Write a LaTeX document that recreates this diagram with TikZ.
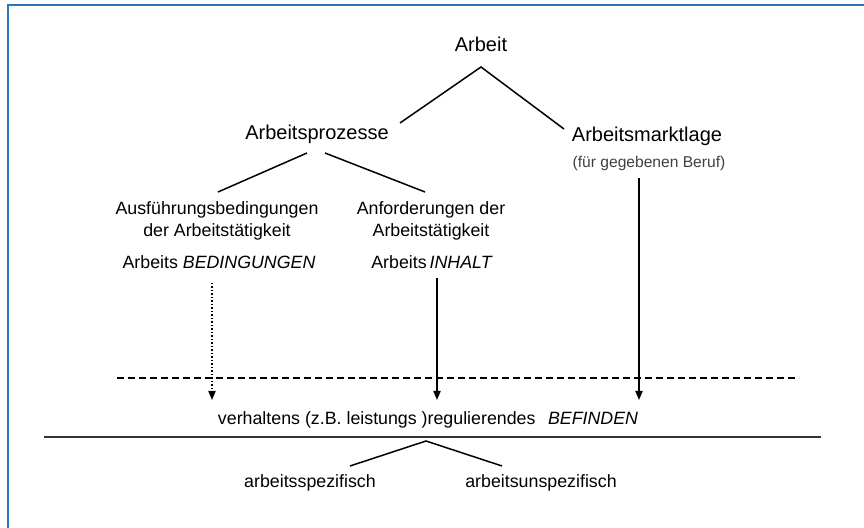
\documentclass[tikz,border=0pt]{standalone}
\usepackage{fontspec}
\setmainfont{Liberation Sans}
\usepackage{xcolor}
\usetikzlibrary{arrows.meta, positioning, calc}
\definecolor{frameblue}{RGB}{46,117,182}

\begin{document}
\begin{tikzpicture}[x=0.5pt, y=-0.5pt,
  big/.style={font=\fontsize{10}{12}\selectfont, inner sep=0pt, anchor=base},
  mid/.style={font=\fontsize{8.9}{11}\selectfont, inner sep=0pt, anchor=base},
  twoline/.style={font=\fontsize{8.9}{11}\selectfont, inner sep=0pt, align=center},
  branch/.style={line width=0.75pt},
  pfeil/.style={line width=0.75pt, -{Triangle[length=4.5pt,width=3.6pt]}}]
  % Rahmen (nur oben und links)
  \useasboundingbox (0,0) rectangle (864,528);
  \draw[frameblue, line width=0.9pt] (864,5) -- (8,5) -- (8,528);
  % Ebene 1 und 2
  \node[big] (arbeit) at (481,52) {Arbeit};
  \node[big] (prozesse) at (317,140) {Arbeitsprozesse};
  \node[big] (markt) at (647,142) {Arbeitsmarktlage};
  \node[font=\fontsize{7.8}{9}\selectfont, text=black!75, inner sep=0pt, anchor=base] (beruf) at (649,168) {(für gegebenen Beruf)};
  % Ebene 3
  \node[twoline] (ausf) at (217,221) {Ausführungsbedingungen\\der Arbeitstätigkeit};
  \node[twoline] (anf) at (431,221) {Anforderungen der\\Arbeitstätigkeit};
  \node[mid] (bed) at (219,269) {Arbeits \textit{BEDINGUNGEN}};
  \node[mid] (inhalt) at (432,269) {Arbeits\,\textit{INHALT}};
  % Befinden
  \node[mid] (befinden) at (428,425) {verhaltens (z.B. leistungs )regulierendes\hspace{0.7em}\textit{BEFINDEN}};
  \node[mid] (spez) at (310,488) {arbeitsspezifisch};
  \node[mid] (unspez) at (541,488) {arbeitsunspezifisch};
  % Verzweigungspunkte
  \coordinate (top) at (481,67);
  \coordinate (topL) at (400,123);
  \coordinate (topR) at (564,129);
  \coordinate (mL1) at (307,153);
  \coordinate (mL2) at (218,192);
  \coordinate (mR1) at (325,153);
  \coordinate (mR2) at (425,192);
  \coordinate (low) at (426,441);
  \coordinate (lowL) at (350,466);
  \coordinate (lowR) at (502,466);
  \draw[branch] (topL) -- (top) -- (topR);
  \draw[branch] (mL1) -- (mL2);
  \draw[branch] (mR1) -- (mR2);
  \draw[branch] (lowL) -- (low) -- (lowR);
  % Pfeile zum Befinden
  \coordinate (aBed) at (212,283);
  \coordinate (aInh) at (437,278);
  \coordinate (aBer) at (639,178);
  \draw[pfeil, densely dotted] (aBed) -- (aBed |- 0,400);
  \draw[pfeil] (aInh) -- (aInh |- 0,400);
  \draw[pfeil] (aBer) -- (aBer |- 0,400);
  % Trennlinien
  \coordinate (dashL) at (117,378);
  \coordinate (dashR) at (799,378);
  \coordinate (lineL) at (44,437);
  \coordinate (lineR) at (821,437);
  \draw[line width=0.6pt, dash pattern=on 3.5pt off 2pt] (dashL) -- (dashR);
  \draw[line width=1.1pt, black!80] (lineL) -- (lineR);
\end{tikzpicture}
\end{document}
